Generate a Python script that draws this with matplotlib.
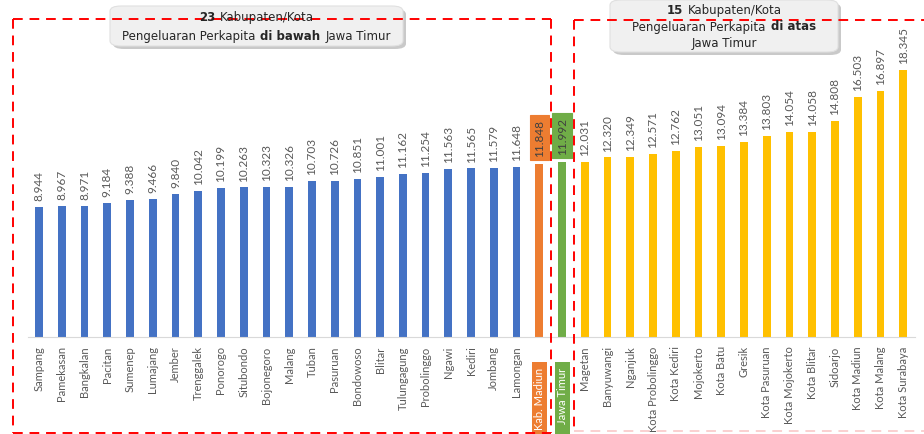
import matplotlib.pyplot as plt
from matplotlib.patches import Rectangle, FancyBboxPatch
from matplotlib.lines import Line2D
import matplotlib.transforms as mtransforms

plt.rcParams['font.family'] = ['Lato', 'DejaVu Sans']

# data
below_names = ['Sampang', 'Pamekasan', 'Bangkalan', 'Pacitan', 'Sumenep', 'Lumajang',
               'Jember', 'Trenggalek', 'Ponorogo', 'Situbondo', 'Bojonegoro', 'Malang',
               'Tuban', 'Pasuruan', 'Bondowoso', 'Blitar', 'Tulungagung', 'Probolinggo',
               'Ngawi', 'Kediri', 'Jombang', 'Lamongan']
below_values = [8.944, 8.967, 8.971, 9.184, 9.388, 9.466, 9.840, 10.042, 10.199, 10.263,
                10.323, 10.326, 10.703, 10.726, 10.851, 11.001, 11.162, 11.254, 11.563,
                11.565, 11.579, 11.648]
madiun_name = 'Kab. Madiun'
madiun_value = 11.848
jatim_name = 'Jawa Timur'
jatim_value = 11.992
above_names = ['Magetan', 'Banyuwangi', 'Nganjuk', 'Kota Probolinggo', 'Kota Kediri',
               'Mojokerto', 'Kota Batu', 'Gresik', 'Kota Pasuruan', 'Kota Mojokerto',
               'Kota Blitar', 'Sidoarjo', 'Kota Madiun', 'Kota Malang', 'Kota Surabaya']
above_values = [12.031, 12.320, 12.349, 12.571, 12.762, 13.051, 13.094, 13.384, 13.803,
                14.054, 14.058, 14.808, 16.503, 16.897, 18.345]

BLUE = '#4472C4'
ORANGE = '#ED7D31'
GREEN = '#70AD47'
YELLOW = '#FFC000'
GRAY = '#595959'

names = below_names + [madiun_name, jatim_name] + above_names
values = below_values + [madiun_value, jatim_value] + above_values
colors = [BLUE] * len(below_names) + [ORANGE, GREEN] + [YELLOW] * len(above_names)
x = list(range(len(names)))
i_mad = len(below_names)
i_jat = i_mad + 1

W, H = 924, 435
fig = plt.figure(figsize=(W / 100, H / 100), dpi=100)
ax = fig.add_axes([27.6 / W, (H - 338) / H, 887 / W, 291.4 / H])

ax.bar(x, values, width=0.34, color=colors)
ax.set_xlim(-0.5, len(names) - 0.5)
ax.set_ylim(0, 20)
for s in ['top', 'right', 'left']:
    ax.spines[s].set_visible(False)
ax.spines['bottom'].set_color('#D9D9D9')
ax.set_yticks([])
ax.set_xticks(x)
ax.set_xticklabels([n if n not in (madiun_name, jatim_name) else '' for n in names],
                   rotation=90, fontsize=8, color=GRAY)
ax.tick_params(axis='x', length=0, pad=6)

# value labels
for xi, v in zip(x, values):
    label = f'{v:.3f}'
    if xi == i_mad or xi == i_jat:
        fc = ORANGE if xi == i_mad else GREEN
        ax.annotate(label, (xi, v), xytext=(0, 6), textcoords='offset points',
                    rotation=90, ha='center', va='bottom', fontsize=8.5, color='#404040',
                    bbox=dict(boxstyle='square,pad=0.35', fc=fc, ec=fc, lw=0.8))
    else:
        ax.annotate(label, (xi, v), xytext=(0, 5), textcoords='offset points',
                    rotation=90, ha='center', va='bottom', fontsize=8.5, color=GRAY)

# boxed category labels for Kab. Madiun and Jawa Timur
blend = mtransforms.blended_transform_factory(ax.transData, fig.transFigure)
for xi, fc, name in [(i_mad, ORANGE, madiun_name), (i_jat, GREEN, jatim_name)]:
    ax.add_patch(Rectangle((xi - 0.33, 0), 0.66, (H - 363) / H, transform=blend,
                           fc=fc, ec='none', clip_on=False))
    ax.text(xi, (H - 368) / H, name, transform=blend, rotation=90, ha='center',
            va='top', fontsize=8, color='white', clip_on=False)


def px(x0, y0):
    return x0 / W, 1 - y0 / H


red_kw = dict(color='#FF0000', lw=1.4, linestyle=(0, (5, 3.5)))
# left dashed frame
for (xa, ya), (xb, yb) in [((13, 20), (551, 20)), ((13, 20), (13, 434)),
                           ((13, 434), (551, 434)), ((551, 20), (551, 434))]:
    (fx0, fy0), (fx1, fy1) = px(xa, ya), px(xb, yb)
    fig.add_artist(Line2D([fx0, fx1], [fy0, fy1], transform=fig.transFigure, **red_kw))
# right dashed frame
for (xa, ya), (xb, yb) in [((574, 21), (930, 21)), ((574, 21), (574, 432))]:
    (fx0, fy0), (fx1, fy1) = px(xa, ya), px(xb, yb)
    fig.add_artist(Line2D([fx0, fx1], [fy0, fy1], transform=fig.transFigure, **red_kw))
(fx0, fy0), (fx1, fy1) = px(574, 432), px(930, 432)
fig.add_artist(Line2D([fx0, fx1], [fy0, fy1], transform=fig.transFigure,
                      color='#FAD0D0', lw=1.4, linestyle=(0, (5, 3.5))))

renderer = fig.canvas.get_renderer()


def rich_line(cx, cy, parts, size=8.5, gap=5):
    # parts: list of (text, bold), drawn side by side and centred on cx
    texts = []
    for s, bold in parts:
        t = fig.text(0, 0, s, ha='left', va='center', fontsize=size, color='#262626',
                     family='DejaVu Sans', fontweight='bold' if bold else 'normal')
        texts.append(t)
    widths = [t.get_window_extent(renderer).width for t in texts]
    total = sum(widths) + gap * (len(texts) - 1)
    xpos = cx - total / 2
    for t, w in zip(texts, widths):
        t.set_position((xpos / W, 1 - cy / H))
        xpos += w + gap


# title boxes
def title_box(x0, y0, x1, y1, lines):
    bx, by = px(x0, y1)
    bw, bh = (x1 - x0) / W, (y1 - y0) / H
    shadow = FancyBboxPatch((bx + 3 / W, by - 3 / H), bw, bh, transform=fig.transFigure,
                            boxstyle='round,pad=0,rounding_size=0.012',
                            fc='#A6A6A6', ec='none', alpha=0.6)
    box = FancyBboxPatch((bx, by), bw, bh, transform=fig.transFigure,
                         boxstyle='round,pad=0,rounding_size=0.012',
                         fc='#F0F0F0', ec='#E0E0E0', lw=0.8)
    fig.add_artist(shadow)
    fig.add_artist(box)
    n = len(lines)
    step = (y1 - y0) / (n + 0.2)
    for k, parts in enumerate(lines):
        yy = y0 + step * (k + 0.6)
        rich_line((x0 + x1) / 2, yy, parts)


title_box(110, 7, 403, 47, [[('23', True), ('Kabupaten/Kota', False)],
                            [('Pengeluaran Perkapita', False), ('di bawah', True),
                             ('Jawa Timur', False)]])
title_box(610, 1, 838, 53, [[('15', True), ('Kabupaten/Kota', False)],
                            [('Pengeluaran Perkapita', False), ('di atas', True)],
                            [('Jawa Timur', False)]])

fig.savefig('out.png', dpi=100)
